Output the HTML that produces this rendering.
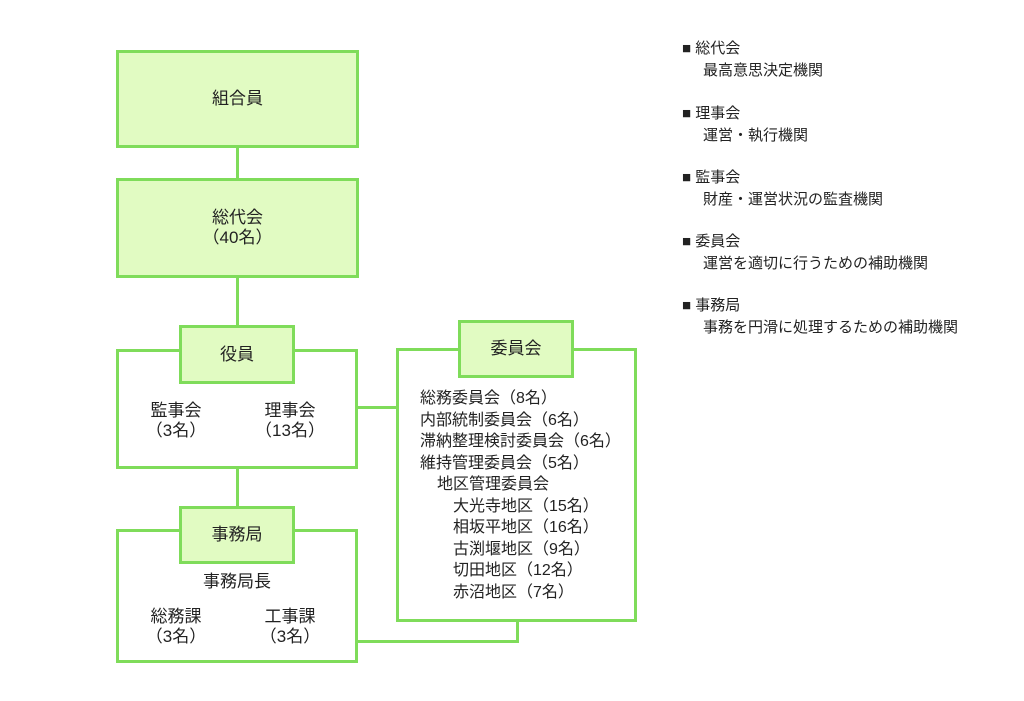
<!DOCTYPE html>
<html><head><meta charset="utf-8"><style>
body{margin:0;width:1024px;height:701px;background:#fff;position:relative;overflow:hidden;font-family:"Liberation Sans","Noto Sans CJK JP",sans-serif;color:#222;}
.b{position:absolute;box-sizing:border-box;border:3px solid #7fdc5a;background:#fff;}
.h{background:#e1fbc2;display:flex;align-items:center;justify-content:center;text-align:center;font-size:17px;line-height:20px;}
.l{position:absolute;background:#7fdc5a;}
.t{position:absolute;font-size:17px;line-height:20px;text-align:center;white-space:nowrap;}
.c{position:absolute;font-size:16px;line-height:21.5px;white-space:nowrap;left:420px;}
.g{position:absolute;left:682px;font-size:15px;line-height:22px;white-space:nowrap;}
</style></head><body>
<div class="l" style="left:236px;top:146px;width:3px;height:34px"></div>
<div class="l" style="left:236px;top:276px;width:3px;height:51px"></div>
<div class="l" style="left:236px;top:466px;width:3px;height:42px"></div>
<div class="l" style="left:355px;top:406px;width:43px;height:3px"></div>
<div class="l" style="left:355px;top:640px;width:164px;height:3px"></div>
<div class="l" style="left:516px;top:620px;width:3px;height:23px"></div>

<div class="b h" style="left:116px;top:50px;width:243px;height:98px">組合員</div>
<div class="b h" style="left:116px;top:178px;width:243px;height:100px">総代会<br>（40名）</div>

<div class="b" style="left:116px;top:349px;width:242px;height:120px"></div>
<div class="b h" style="left:179px;top:325px;width:116px;height:59px">役員</div>
<div class="t" style="left:131px;top:401px;width:90px">監事会<br>（3名）</div>
<div class="t" style="left:245px;top:401px;width:90px">理事会<br>（13名）</div>

<div class="b" style="left:116px;top:529px;width:242px;height:134px"></div>
<div class="b h" style="left:179px;top:506px;width:116px;height:58px">事務局</div>
<div class="t" style="left:182px;top:572px;width:110px">事務局長</div>
<div class="t" style="left:131px;top:607px;width:90px">総務課<br>（3名）</div>
<div class="t" style="left:245px;top:607px;width:90px">工事課<br>（3名）</div>

<div class="b" style="left:396px;top:348px;width:241px;height:274px"></div>
<div class="b h" style="left:458px;top:320px;width:116px;height:58px">委員会</div>
<div class="c" style="top:388px">総務委員会（8名）</div>
<div class="c" style="top:409.5px">内部統制委員会（6名）</div>
<div class="c" style="top:431px">滞納整理検討委員会（6名）</div>
<div class="c" style="top:452.5px">維持管理委員会（5名）</div>
<div class="c" style="top:474px;left:437px">地区管理委員会</div>
<div class="c" style="top:495.5px;left:453px">大光寺地区（15名）</div>
<div class="c" style="top:517px;left:453px">相坂平地区（16名）</div>
<div class="c" style="top:538.5px;left:453px">古渕堰地区（9名）</div>
<div class="c" style="top:560px;left:453px">切田地区（12名）</div>
<div class="c" style="top:581.5px;left:453px">赤沼地区（7名）</div>

<div class="g" style="top:38px">■ 総代会<br><span style="margin-left:21px">最高意思決定機関</span></div>
<div class="g" style="top:103px">■ 理事会<br><span style="margin-left:21px">運営・執行機関</span></div>
<div class="g" style="top:167px">■ 監事会<br><span style="margin-left:21px">財産・運営状況の監査機関</span></div>
<div class="g" style="top:231px">■ 委員会<br><span style="margin-left:21px">運営を適切に行うための補助機関</span></div>
<div class="g" style="top:295px">■ 事務局<br><span style="margin-left:21px">事務を円滑に処理するための補助機関</span></div>
</body></html>
